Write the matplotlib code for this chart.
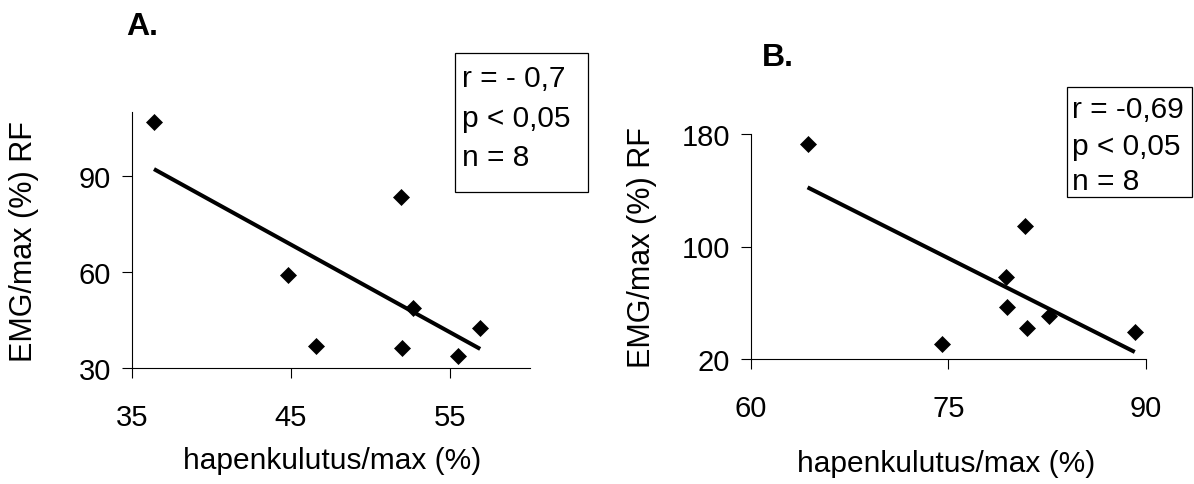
import numpy as np
import matplotlib
matplotlib.use("Agg")
import matplotlib.pyplot as plt
from matplotlib.patches import Rectangle

plt.rcParams['font.family'] = ['Liberation Sans', 'DejaVu Sans']

# panel A data
a_x = [36.4, 44.85, 46.6, 51.95, 52.65, 52.0, 55.5, 56.9]
a_y = [106.9, 59.2, 37.1, 83.5, 48.7, 36.3, 34.0, 42.7]
a_xticks = [35, 45, 55]
a_yticks = [30, 60, 90]
a_stats = ["r = - 0,7", "p < 0,05", "n = 8"]

# panel B data
b_x = [64.3, 74.54, 79.41, 79.44, 80.85, 81.0, 82.63, 89.17]
b_y = [173.0, 30.7, 78.5, 57.0, 114.9, 42.2, 50.6, 39.1]
b_xticks = [60, 75, 90]
b_yticks = [20, 100, 180]
b_stats = ["r = -0,69", "p < 0,05", "n = 8"]

xlabel = "hapenkulutus/max (%)"
ylabel = "EMG/max (%) RF"

W, H = 1194, 485
fig = plt.figure(figsize=(W / 100, H / 100), dpi=100)


def fx(px):
    return px / W


def fy(py):
    # pixel row from the top -> figure fraction
    return 1 - py / H


def panel(box, xs, ys, xlim, ylim, xticks, yticks, xlab_pos, ylab_x):
    left, top, right, bottom = box
    ax = fig.add_axes([fx(left), fy(bottom), fx(right - left), (bottom - top) / H])
    xs = np.asarray(xs)
    ys = np.asarray(ys)
    ax.plot(xs, ys, 'D', ms=8, color='black', mew=0.5, clip_on=False, zorder=3)
    k, c = np.polyfit(xs, ys, 1)
    xx = np.array([xs.min(), xs.max()])
    ax.plot(xx, k * xx + c, color='black', lw=2.9, solid_capstyle='butt')

    ax.set_xlim(*xlim)
    ax.set_ylim(*ylim)
    ax.set_xticks(xticks)
    ax.set_yticks(yticks)
    for s in ('top', 'right'):
        ax.spines[s].set_visible(False)
    for s in ('left', 'bottom'):
        ax.spines[s].set_linewidth(0.8)
    ax.tick_params(direction='out', length=7, width=0.8, labelsize=21, color='black')
    ax.tick_params(axis='x', pad=18)
    ax.tick_params(axis='y', pad=8)

    ax.set_xlabel(xlabel, fontsize=21.5)
    ax.xaxis.set_label_coords(*xlab_pos)
    ax.set_ylabel(ylabel, fontsize=22)
    ax.yaxis.set_label_coords(ylab_x, 0.5)
    return ax


panel((131.7, 113.3, 529.5, 369.3), a_x, a_y, (35, 60), (30, 110),
      a_xticks, a_yticks, (0.503, -0.305), -0.234)
panel((751.0, 135.0, 1145.7, 360.0), b_x, b_y, (60, 90), (20, 180),
      b_xticks, b_yticks, (0.494, -0.40), -0.238)

# panel letters
fig.text(fx(126), fy(35), "A.", fontsize=23, fontweight='bold', va='baseline', ha='left')
fig.text(fx(761.7), fy(66), "B.", fontsize=23, fontweight='bold', va='baseline', ha='left')


def stat_box(rect, text_x, baselines, lines):
    x0, y0, x1, y1 = rect
    fig.patches.append(Rectangle((fx(x0), fy(y1)), fx(x1 - x0), (y1 - y0) / H,
                                 transform=fig.transFigure, fill=False,
                                 edgecolor='black', lw=0.9))
    for b, s in zip(baselines, lines):
        fig.text(fx(text_x), fy(b), s, fontsize=21.5, va='baseline', ha='left')


stat_box((455, 54, 588, 193), 462, [86.7, 127, 166], a_stats)
stat_box((1066.7, 88.3, 1192, 198.3), 1071.7, [118, 155, 190], b_stats)

fig.savefig("out.png", dpi=100)
